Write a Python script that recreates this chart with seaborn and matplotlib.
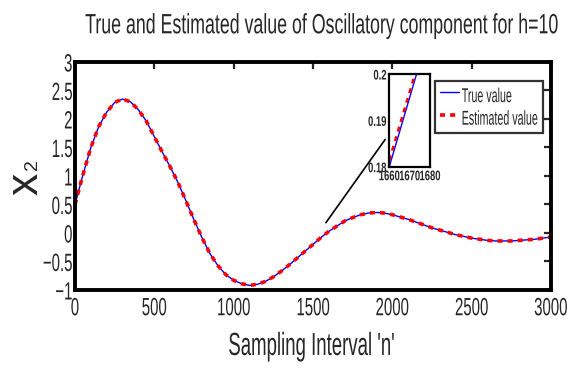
import numpy as np
import pandas as pd
import matplotlib
matplotlib.use('Agg')
import matplotlib.pyplot as plt
import seaborn as sns
from matplotlib.patheffects import AbstractPathEffect
from matplotlib.transforms import Affine2D

# sampled readings of the oscillatory component
n_vals = [0, 50, 100, 150, 200, 250, 300, 350, 400, 450, 500, 550, 600, 650, 700,
          750, 800, 850, 900, 950, 1000, 1050, 1100, 1150, 1200, 1250, 1300, 1350,
          1400, 1450, 1500, 1550, 1600, 1650, 1700, 1750, 1800, 1850, 1900, 1950,
          2000, 2050, 2100, 2150, 2200, 2250, 2300, 2350, 2400, 2450, 2500, 2550,
          2600, 2650, 2700, 2750, 2800, 2850, 2900, 2950, 3000]
true_vals = [0.50, 1.02, 1.50, 1.87, 2.12, 2.29, 2.35, 2.30, 2.16, 1.96, 1.69, 1.42,
             1.16, 0.88, 0.56, 0.23, -0.08, -0.36, -0.57, -0.73, -0.83, -0.89, -0.92,
             -0.90, -0.85, -0.77, -0.67, -0.56, -0.44, -0.32, -0.20, -0.08, 0.03, 0.12,
             0.21, 0.27, 0.32, 0.35, 0.36, 0.35, 0.32, 0.28, 0.24, 0.19, 0.14, 0.09,
             0.05, 0.01, -0.03, -0.06, -0.09, -0.11, -0.13, -0.14, -0.14, -0.14, -0.13,
             -0.12, -0.11, -0.09, -0.07]
est_vals = [0.50, 1.02, 1.50, 1.87, 2.12, 2.29, 2.35, 2.30, 2.16, 1.96, 1.69, 1.42,
            1.16, 0.88, 0.56, 0.23, -0.08, -0.36, -0.57, -0.73, -0.83, -0.89, -0.92,
            -0.90, -0.85, -0.77, -0.67, -0.56, -0.44, -0.32, -0.20, -0.08, 0.03, 0.12,
            0.21, 0.27, 0.32, 0.35, 0.36, 0.35, 0.32, 0.28, 0.24, 0.19, 0.14, 0.09,
            0.05, 0.01, -0.03, -0.06, -0.09, -0.11, -0.13, -0.14, -0.14, -0.14, -0.13,
            -0.12, -0.11, -0.09, -0.07]

# zoomed window shown in the inset
zoom_n = [1660, 1673.4]
zoom_true = [0.18, 0.20]
zoom_n_est = [1660, 1672.6]
zoom_est = [0.1814, 0.20]


class Squeeze(AbstractPathEffect):
    # reshape the glyphs like the original export (text drawn as paths)
    def __init__(self, sx=0.6, sy=1.0, ha='center', va='center'):
        super().__init__()
        self.sx, self.sy, self.ha, self.va = sx, sy, ha, va

    def draw_path(self, renderer, gc, tpath, affine, rgbFace=None):
        ext = tpath.get_extents()
        if self.ha == 'left':
            cx = ext.x0
        elif self.ha == 'right':
            cx = ext.x1
        else:
            cx = (ext.x0 + ext.x1) / 2
        cy = 0 if self.va == 'baseline' else (ext.y0 + ext.y1) / 2
        t = Affine2D().translate(-cx, -cy).scale(self.sx, self.sy).translate(cx, cy)
        renderer.draw_path(gc, tpath, t + affine, rgbFace)


sns.set_style('white')
plt.rcParams['font.family'] = ['Liberation Sans', 'DejaVu Sans']
plt.rcParams['xtick.direction'] = 'in'
plt.rcParams['ytick.direction'] = 'in'

df = pd.DataFrame({'n': n_vals, 'true': true_vals, 'est': est_vals})

fig = plt.figure(figsize=(5.8, 3.68), dpi=100)
ax = fig.add_axes([0.1293, 0.212, 0.8207, 0.6196])

sns.lineplot(data=df, x='n', y='true', ax=ax, color='#0000ff', linewidth=1.0,
             label='True value')
sns.lineplot(data=df, x='n', y='est', ax=ax, color='#ff0000', linewidth=2.6,
             linestyle=(0, (1.4, 1.4)), label='Estimated value')

ax.set_xlim(0, 3000)
ax.set_ylim(-1, 3)
ax.set_xticks(range(0, 3001, 500))
ax.set_yticks(np.arange(-1, 3.01, 0.5))
ax.set_yticklabels(['\u22121', '\u22120.5', '0', '0.5', '1', '1.5', '2', '2.5', '3'])
ax.tick_params(axis='both', labelsize=18, length=5, width=1.6, top=True, right=True)
ax.tick_params(axis='x', pad=4.5)
ax.tick_params(axis='y', pad=1.5)
for lab in ax.get_xticklabels():
    lab.set_path_effects([Squeeze(0.6, ha='center')])
for lab in ax.get_yticklabels():
    lab.set_path_effects([Squeeze(0.6, ha='right')])
for s in ax.spines.values():
    s.set_linewidth(2.8)
    s.set_color('black')

# narrow label: laid out at the narrow width, then stretched upward
ax.set_xlabel("Sampling Interval 'n'", fontsize=13.4,
              path_effects=[Squeeze(1.0, 1.72, va='baseline')])
ax.xaxis.label.set_va('baseline')
ax.xaxis.set_label_coords(0.497, -0.285)
ax.set_ylabel('')
ax.text(-0.1025, 0.464, 'x', fontsize=32, rotation=90, ha='center', va='center',
        transform=ax.transAxes)
ax.text(-0.089, 0.548, '2', fontsize=14, rotation=90, ha='center', va='center',
        transform=ax.transAxes)

fig.suptitle('True and Estimated value of Oscillatory component for h=10',
             x=0.554, y=0.9095, va='baseline', fontsize=12.8,
             path_effects=[Squeeze(1.0, 1.57, va='baseline')])

leg = ax.legend(loc='upper right', bbox_to_anchor=(543.3 / 580, 1 - 80.7 / 368),
                bbox_transform=fig.transFigure, borderaxespad=0, fontsize=7.7,
                frameon=True, fancybox=False, handlelength=1.8, handleheight=2.5,
                borderpad=0.45, labelspacing=0.24, handletextpad=0.25)
leg.get_frame().set_edgecolor('black')
leg.get_frame().set_linewidth(1.6)
for t in leg.get_texts():
    t.set_path_effects([Squeeze(1.0, 1.87, ha='left')])

# connector line to inset
ax.annotate('', xy=(1571, 0.14), xycoords='data', xytext=(386.7 / 580, 1 - 137.3 / 368),
            textcoords='figure fraction',
            arrowprops=dict(arrowstyle='-', color='black', lw=1.2))

# inset axes
ins = fig.add_axes([0.6712, 0.547, 0.0702, 0.2519])
sns.lineplot(x=zoom_n, y=zoom_true, ax=ins, color='#0000ff', linewidth=1.0)
sns.lineplot(x=zoom_n_est, y=zoom_est, ax=ins, color='#ff0000', linewidth=1.8,
             linestyle=(0, (2, 2)))
ins.set_xlim(1660, 1680)
ins.set_ylim(0.18, 0.2)
ins.set_xticks([1660, 1670, 1680])
ins.set_yticks([0.18, 0.19, 0.2])
ins.set_yticklabels(['0.18', '0.19', '0.2'])
ins.tick_params(axis='both', labelsize=10, length=0, pad=1.8)
for lab in ins.get_xticklabels():
    lab.set_fontweight('bold')
    lab.set_path_effects([Squeeze(0.68, ha='center')])
for lab in ins.get_yticklabels():
    lab.set_fontweight('bold')
    lab.set_path_effects([Squeeze(0.68, ha='right')])
for s in ins.spines.values():
    s.set_linewidth(1.6)
    s.set_color('black')
ins.set_facecolor('white')

fig.savefig('out.png', dpi=100)
